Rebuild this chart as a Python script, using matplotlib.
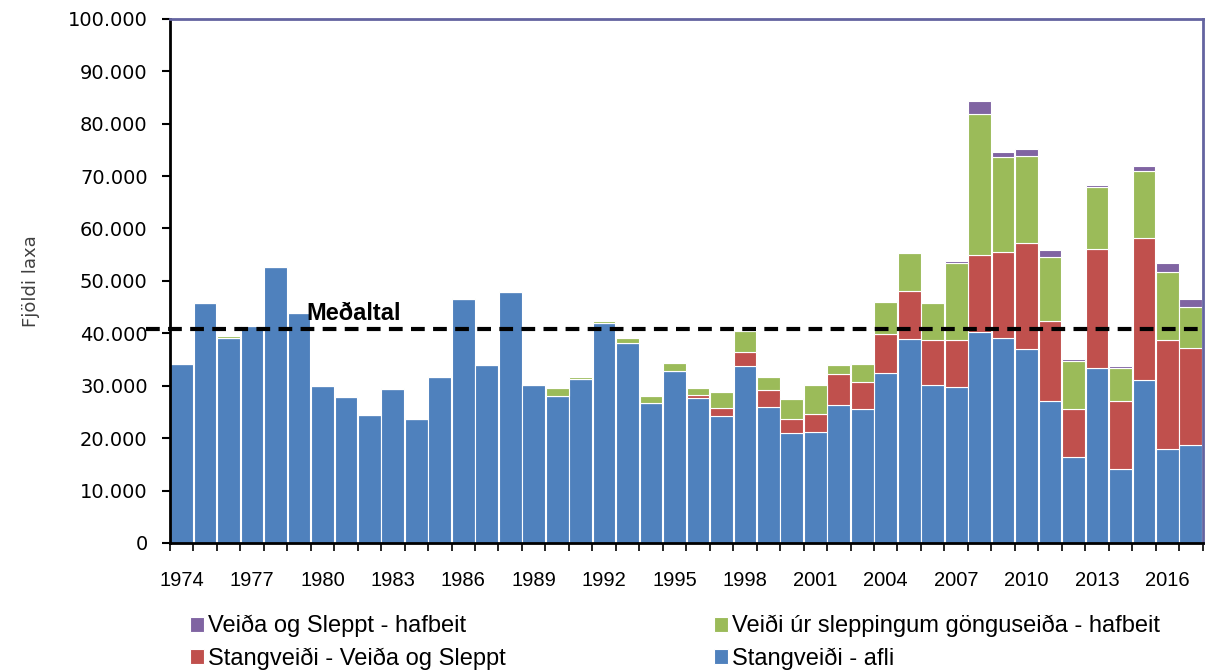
import numpy as np
import matplotlib
matplotlib.use("Agg")
import matplotlib.pyplot as plt
from matplotlib.ticker import FuncFormatter

years = list(range(1974, 2018))

# values in thousands of fish
afli = [34.1, 45.8, 39.2, 41.3, 52.7, 43.9, 30.0, 27.8, 24.5, 29.3, 23.6, 31.7,
        46.6, 33.9, 47.9, 30.1, 28.0, 31.2, 41.9, 38.2, 26.7, 32.9, 27.6, 24.3,
        33.8, 26.0, 20.9, 21.1, 26.3, 25.6, 32.5, 38.9, 30.1, 29.7, 40.3, 39.2,
        37.0, 27.0, 16.4, 33.3, 14.1, 31.0, 17.9, 18.6]
veida_sleppt = [0] * 22 + [0.6, 1.5, 2.7, 3.1, 2.7, 3.5, 5.9, 5.2, 7.3, 9.1,
                           8.7, 9.1, 14.7, 16.4, 20.2, 15.4, 9.2, 22.8, 12.9,
                           27.1, 20.9, 18.6]
hafbeit = [0.2] * 16 + [1.6, 0.5, 0.5, 0.9, 1.4, 1.5, 1.4, 3.0, 4.0, 2.5, 3.9,
                        5.6, 1.8, 3.4, 6.1, 7.3, 6.9, 14.6, 26.8, 18.1, 16.7,
                        12.2, 9.1, 11.9, 6.3, 12.9, 12.9, 7.9]
vs_hafbeit = [0] * 25 + [0.1, 0.1, 0.1, 0.2, 0.2, 0.2, 0.1, 0.1, 0.4, 2.5, 0.9,
                         1.2, 1.3, 0.4, 0.3, 0.5, 0.9, 1.7, 1.5]
medaltal = 40.8

afli = np.array(afli) * 1000
veida_sleppt = np.array(veida_sleppt) * 1000
hafbeit = np.array(hafbeit) * 1000
vs_hafbeit = np.array(vs_hafbeit) * 1000

c_blue, c_red, c_green, c_purple = "#4F81BD", "#C0504D", "#9BBB59", "#8064A2"
arial = ["Liberation Sans", "DejaVu Sans"]

fig = plt.figure(figsize=(12.05, 6.72), dpi=100)
ax = fig.add_axes([0.141, 0.192, 0.857, 0.780])

x = np.arange(len(years))
kw = dict(width=0.97, edgecolor="white", linewidth=0.8)
b1 = ax.bar(x, afli, color=c_blue, **kw)
b2 = ax.bar(x, veida_sleppt, bottom=afli, color=c_red, **kw)
b3 = ax.bar(x, hafbeit, bottom=afli + veida_sleppt, color=c_green, **kw)
b4 = ax.bar(x, vs_hafbeit, bottom=afli + veida_sleppt + hafbeit, color=c_purple, **kw)

ax.plot([-1.5, len(years) - 0.5], [medaltal * 1000] * 2, color="black", lw=3,
        dashes=(3.3, 2), clip_on=False, zorder=5)
ax.text(5.3, 41500, "Meðaltal", fontsize=17, fontweight="bold", family=arial,
        va="bottom", ha="left")

ax.set_xlim(-0.5, len(years) - 0.5)
ax.set_ylim(0, 100000)
ax.set_yticks(np.arange(0, 100001, 10000))
ax.yaxis.set_major_formatter(FuncFormatter(lambda v, p: f"{int(v):,}".replace(",", ".")))
ax.tick_params(axis="y", labelsize=14, length=6, width=1.5, direction="out", pad=10)

ax.set_xticks(np.arange(-0.5, len(years), 1))
ax.set_xticklabels([])
ax.tick_params(axis="x", which="major", length=6, width=1.2, direction="out")
ax.set_xticks(x[::3], minor=True)
ax.set_xticklabels([str(y) for y in years[::3]], minor=True, fontsize=14.5, family=arial)
ax.tick_params(axis="x", which="minor", length=0, pad=20)

for s in ["left", "bottom"]:
    ax.spines[s].set_linewidth(2)
    ax.spines[s].set_color("black")
for s in ["top", "right"]:
    ax.spines[s].set_linewidth(2)
    ax.spines[s].set_color("#6464A0")

ax.set_ylabel("Fjöldi laxa", fontsize=13, color="#404040", labelpad=20)

leg_kw = dict(loc="upper left", frameon=False, prop={"family": arial, "size": 17},
              handlelength=0.6, handleheight=0.6, handletextpad=0.15,
              labelspacing=0.42, borderpad=0, borderaxespad=0)
fig.legend([b4, b2], ["Veiða og Sleppt - hafbeit", "Stangveiði - Veiða og Sleppt"],
           bbox_to_anchor=(190 / 1205, 1 - 615 / 672), **leg_kw)
fig.legend([b3, b1], ["Veiði úr sleppingum gönguseiða - hafbeit", "Stangveiði - afli"],
           bbox_to_anchor=(714 / 1205, 1 - 615 / 672), **leg_kw)

fig.savefig("out.png", dpi=100)
